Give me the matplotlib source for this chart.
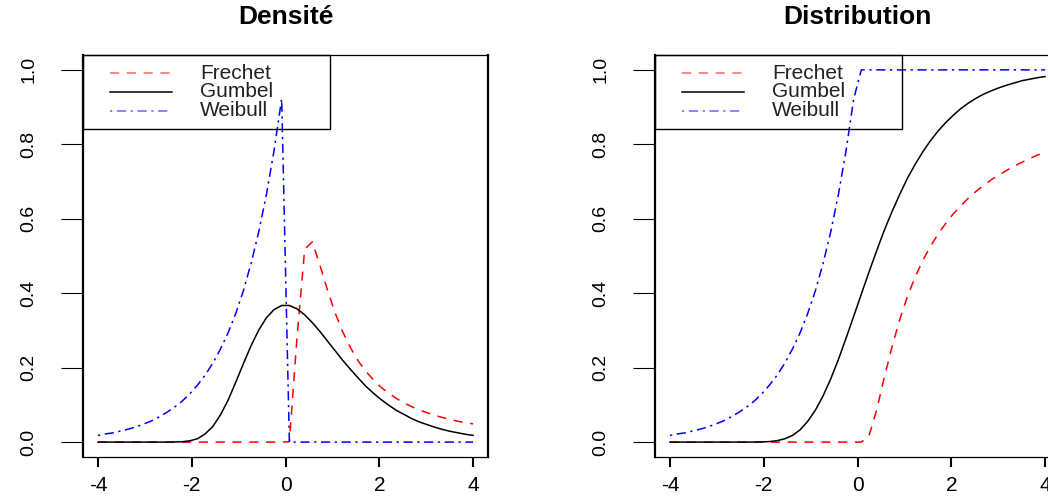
# import packages
import matplotlib
matplotlib.use("Agg")
import matplotlib.pyplot as plt
from matplotlib.patches import Rectangle

plt.rcParams["font.family"] = ["Liberation Sans", "DejaVu Sans"]
plt.rcParams["axes.unicode_minus"] = False

# x grid (50 points from -4 to 4)
x = [-4.0, -3.837, -3.673, -3.51, -3.347, -3.184, -3.02, -2.857, -2.694, -2.531,
     -2.367, -2.204, -2.041, -1.878, -1.714, -1.551, -1.388, -1.224, -1.061, -0.898,
     -0.735, -0.571, -0.408, -0.245, -0.082, 0.082, 0.245, 0.408, 0.571, 0.735,
     0.898, 1.061, 1.224, 1.388, 1.551, 1.714, 1.878, 2.041, 2.204, 2.367,
     2.531, 2.694, 2.857, 3.02, 3.184, 3.347, 3.51, 3.673, 3.837, 4.0]

# densities
frechet_dens = [0.0] * 25 + [
    0.001, 0.281, 0.518, 0.538, 0.475, 0.407, 0.346, 0.295, 0.253, 0.218,
    0.190, 0.167, 0.147, 0.131, 0.117, 0.105, 0.095, 0.086, 0.079, 0.072,
    0.066, 0.061, 0.056, 0.052, 0.049]
gumbel_dens = [0.0] * 10 + [
    0.0003, 0.001, 0.0035, 0.009, 0.022, 0.042, 0.073, 0.113, 0.161, 0.211,
    0.259, 0.301, 0.334, 0.356, 0.367, 0.367, 0.358, 0.342, 0.321, 0.297,
    0.271, 0.245, 0.219, 0.195, 0.172, 0.150, 0.131, 0.114, 0.099, 0.085,
    0.074, 0.063, 0.054, 0.047, 0.040, 0.034, 0.029, 0.025, 0.021, 0.018]
weibull_dens = [
    0.018, 0.022, 0.025, 0.030, 0.035, 0.041, 0.049, 0.057, 0.068, 0.080,
    0.094, 0.110, 0.130, 0.153, 0.180, 0.212, 0.250, 0.294, 0.346, 0.407,
    0.480, 0.565, 0.665, 0.783, 0.922] + [0.0] * 25

# distribution functions
frechet_cdf = [0.0] * 26 + [
    0.017, 0.086, 0.174, 0.256, 0.328, 0.390, 0.442, 0.487, 0.525, 0.558,
    0.587, 0.613, 0.635, 0.656, 0.674, 0.690, 0.705, 0.718, 0.730, 0.742,
    0.752, 0.762, 0.771, 0.779]
gumbel_cdf = [0.0] * 11 + [
    0.0001, 0.0005, 0.0014, 0.0039, 0.0089, 0.018, 0.033, 0.056, 0.086, 0.124,
    0.170, 0.222, 0.279, 0.338, 0.398, 0.457, 0.514, 0.569, 0.619, 0.665,
    0.708, 0.745, 0.779, 0.809, 0.835, 0.858, 0.878, 0.896, 0.911, 0.924,
    0.935, 0.944, 0.952, 0.959, 0.965, 0.971, 0.975, 0.979, 0.982]
weibull_cdf = weibull_dens[:25] + [1.0] * 25

labels = ["Frechet", "Gumbel", "Weibull"]
colors = ["red", "black", "blue"]
styles = [(0, (6, 5)), "-", (0, (1.5, 3, 6, 3))]
titles = ["Densité", "Distribution"]
xticks = [-4, -2, 0, 2, 4]
yticks = [0.0, 0.2, 0.4, 0.6, 0.8, 1.0]

fig = plt.figure(figsize=(10.48, 4.99), dpi=100)
ax1 = fig.add_axes([0.0792, 0.0842, 0.3865, 0.8056])
ax2 = fig.add_axes([0.625, 0.0842, 0.3865, 0.8056])


def draw_panel(ax, series, title):
    for y, col, ls in zip(series, colors, styles):
        ax.plot(x, y, color=col, linestyle=ls, linewidth=1.1)
    ax.set_xlim(-4.32, 4.32)
    ax.set_ylim(-0.04, 1.04)
    ax.set_xticks(xticks)
    ax.set_xticklabels([str(v) for v in xticks])
    ax.set_yticks(yticks)
    ax.set_yticklabels(["%.1f" % v for v in yticks])
    ax.tick_params(axis="x", direction="out", length=7.5, width=1.5, pad=6, labelsize=15)
    ax.tick_params(axis="y", direction="out", length=16, width=0.8, pad=17, labelsize=14,
                   labelrotation=90)
    for lab in ax.get_yticklabels():
        lab.set_va("center")
    for side in ["left", "right"]:
        ax.spines[side].set_linewidth(1.6)
    for side in ["top", "bottom"]:
        ax.spines[side].set_linewidth(0.9)
    ax.set_title(title, fontsize=19, fontweight="bold", pad=22)

    # legend box (R style, not filled)
    ax.add_patch(Rectangle((0, 0.816), 0.61, 0.184, transform=ax.transAxes,
                           fill=False, edgecolor="black", linewidth=1.0, zorder=5,
                           clip_on=False))
    rows = [0.955, 0.908, 0.861]
    for ry, lab, col, ls in zip(rows, labels, colors, styles):
        ax.plot([0.067, 0.22], [ry, ry], transform=ax.transAxes, color=col,
                linestyle=ls, linewidth=1.1, alpha=0.6 if col != "black" else 1.0)
        ax.text(0.289, ry, lab, transform=ax.transAxes, fontsize=15, va="center",
                ha="left", color="#222222")


draw_panel(ax1, [frechet_dens, gumbel_dens, weibull_dens], titles[0])
draw_panel(ax2, [frechet_cdf, gumbel_cdf, weibull_cdf], titles[1])

plt.savefig("out.png", dpi=100)
